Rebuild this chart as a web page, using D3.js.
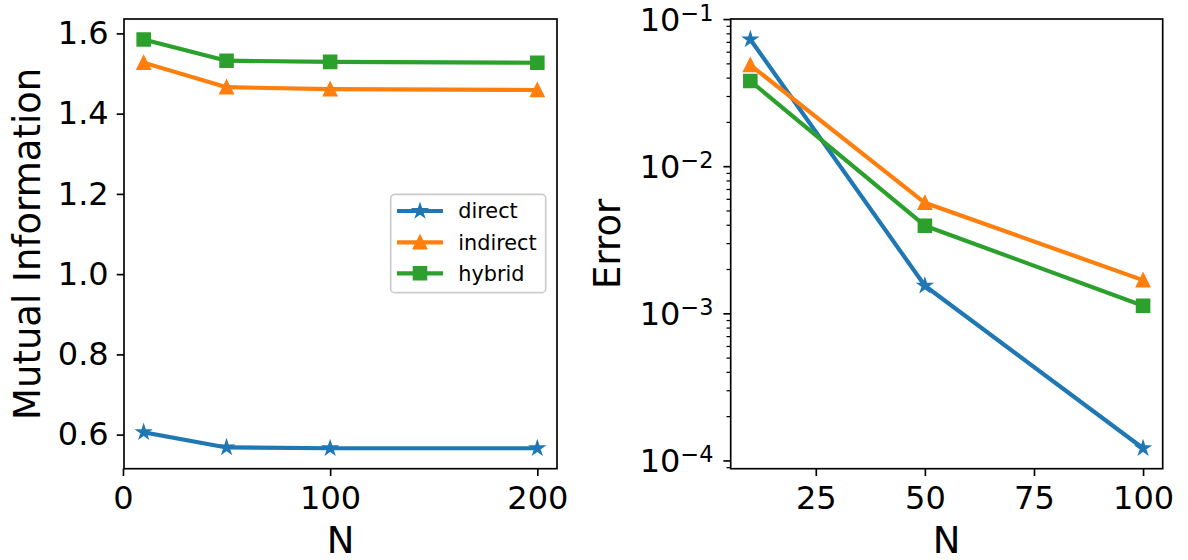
<!DOCTYPE html>
<html>
<head>
<meta charset="utf-8">
<script src="https://cdn.jsdelivr.net/npm/d3@7"></script>
<style>
  html, body { margin: 0; padding: 0; background: #fff; }
  svg { display: block; font-family: "DejaVu Sans", sans-serif; }
</style>
</head>
<body>
<svg id="chart" width="1188" height="560"></svg>
<script>
// ---- data ----
const seriesNames = ["direct", "indirect", "hybrid"];
const seriesColors = ["#1f77b4", "#ff7f0e", "#2ca02c"];
const seriesMarkers = ["star", "triangle", "square"];

const nMI = [10, 50, 100, 200];
const directMI = [0.606, 0.568, 0.566, 0.566];
const indirectMI = [1.527, 1.466, 1.461, 1.459];
const hybridMI = [1.585, 1.532, 1.529, 1.527];

const nErr = [10, 50, 100];
const directErr = [0.0727, 0.00154, 0.000121];
const indirectErr = [0.0487, 0.00564, 0.00168];
const hybridErr = [0.0379, 0.00394, 0.001125];

const xTicksMI = [0, 100, 200];
const yTicksMI = [0.6, 0.8, 1.0, 1.2, 1.4, 1.6];
const xTicksErr = [25, 50, 75, 100];
const yTicksErr = [1e-4, 1e-3, 1e-2, 1e-1];

// ---- style ----
const S = 2.083; // points -> px
const lineW = 2 * S;
const msz = 6 * S;
const tickFont = 32, labelFont = 37, legendFont = 20.8;
const majorLen = 3.5 * S, minorLen = 2 * S, tickW = 0.8 * S;

const svg = d3.select("#chart");

function markerPath(type) {
  const h = msz / 2;
  if (type === "square") return `M${-h},${-h}H${h}V${h}H${-h}Z`;
  if (type === "triangle") return `M0,${-h}L${-h},${h}L${h},${h}Z`;
  // star (5 points, inner ratio 0.381966)
  let p = "";
  for (let i = 0; i < 10; i++) {
    const r = i % 2 === 0 ? h : h * 0.381966;
    const a = -Math.PI / 2 + i * Math.PI / 5;
    p += (i === 0 ? "M" : "L") + (r * Math.cos(a)).toFixed(3) + "," + (r * Math.sin(a)).toFixed(3);
  }
  return p + "Z";
}

function padDomain(lo, hi) { const m = (hi - lo) * 0.05; return [lo - m, hi + m]; }

function drawPanel(opt) {
  const { left, right, top, bottom, xs, ys, xVals, seriesVals, xTicks, yTicks, log } = opt;
  const g = svg.append("g");

  // lines & markers
  seriesVals.forEach((vals, si) => {
    const pts = xVals.map((x, i) => [xs(x), ys(vals[i])]);
    g.append("path")
      .attr("d", d3.line()(pts))
      .attr("fill", "none")
      .attr("stroke", seriesColors[si])
      .attr("stroke-width", lineW)
      .attr("stroke-linejoin", "round")
      .attr("stroke-linecap", "square");
    g.selectAll(null).data(pts).enter().append("path")
      .attr("d", markerPath(seriesMarkers[si]))
      .attr("transform", d => `translate(${d[0]},${d[1]})`)
      .attr("fill", seriesColors[si])
      .attr("stroke", seriesColors[si])
      .attr("stroke-width", 1 * S)
      .attr("stroke-linejoin", "miter");
  });

  // frame
  g.append("rect")
    .attr("x", left).attr("y", top)
    .attr("width", right - left).attr("height", bottom - top)
    .attr("fill", "none").attr("stroke", "#000").attr("stroke-width", tickW);

  // x axis
  const xa = g.append("g").attr("transform", `translate(0,${bottom})`)
    .call(d3.axisBottom(xs).tickValues(xTicks).tickSize(majorLen).tickPadding(10.6).tickFormat(d3.format("d")));
  xa.select(".domain").remove();
  xa.selectAll("line").attr("stroke-width", tickW);
  xa.selectAll("text").attr("font-size", tickFont).attr("font-family", "DejaVu Sans").attr("fill", "#000");

  // y axis
  if (!log) {
    const ya = g.append("g").attr("transform", `translate(${left},0)`)
      .call(d3.axisLeft(ys).tickValues(yTicks).tickSize(majorLen).tickPadding(8).tickFormat(d3.format(".1f")));
    ya.select(".domain").remove();
    ya.selectAll("line").attr("stroke-width", tickW);
    ya.selectAll("text").attr("font-size", tickFont).attr("font-family", "DejaVu Sans").attr("fill", "#000");
  } else {
    const [d0, d1] = ys.domain();
    const minors = [];
    for (let e = Math.floor(Math.log10(d0)); e <= Math.ceil(Math.log10(d1)); e++) {
      for (let k = 2; k <= 9; k++) {
        const v = k * Math.pow(10, e);
        if (v >= d0 && v <= d1) minors.push(v);
      }
    }
    const ym = g.append("g").attr("transform", `translate(${left},0)`)
      .call(d3.axisLeft(ys).tickValues(minors).tickSize(minorLen).tickFormat(""));
    ym.select(".domain").remove();
    ym.selectAll("line").attr("stroke-width", tickW * 0.75);

    const ya = g.append("g").attr("transform", `translate(${left},0)`)
      .call(d3.axisLeft(ys).tickValues(yTicks).tickSize(majorLen).tickPadding(10).tickFormat(""));
    ya.select(".domain").remove();
    ya.selectAll("line").attr("stroke-width", tickW);
    ya.selectAll(".tick").each(function (d) {
      const t = d3.select(this).select("text")
        .attr("font-size", tickFont).attr("font-family", "DejaVu Sans").attr("fill", "#000")
        .attr("text-anchor", "end").attr("dy", "0.36em");
      t.append("tspan").text("10");
      t.append("tspan").attr("font-size", tickFont * 0.7).attr("dy", "-0.45em")
        .text("\u2212" + Math.round(-Math.log10(d)));
    });
  }
  return g;
}

// ---- left panel ----
const L = { left: 124, right: 557, top: 19, bottom: 468.7 };
const allMI = directMI.concat(indirectMI, hybridMI);
const xsL = d3.scaleLinear().domain(padDomain(d3.min(nMI), d3.max(nMI))).range([L.left, L.right]);
const ysL = d3.scaleLinear().domain(padDomain(d3.min(allMI), d3.max(allMI))).range([L.bottom, L.top]);
drawPanel({ ...L, xs: xsL, ys: ysL, xVals: nMI, seriesVals: [directMI, indirectMI, hybridMI],
  xTicks: xTicksMI, yTicks: yTicksMI, log: false });

// ---- right panel ----
const R = { left: 730.7, right: 1162.7, top: 19, bottom: 468.7 };
const allErr = directErr.concat(indirectErr, hybridErr);
const lgd = padDomain(Math.log10(d3.min(allErr)), Math.log10(d3.max(allErr)));
const xsR = d3.scaleLinear().domain(padDomain(d3.min(nErr), d3.max(nErr))).range([R.left, R.right]);
const ysR = d3.scaleLog().domain([Math.pow(10, lgd[0]), Math.pow(10, lgd[1])]).range([R.bottom, R.top]);
drawPanel({ ...R, xs: xsR, ys: ysR, xVals: nErr, seriesVals: [directErr, indirectErr, hybridErr],
  xTicks: xTicksErr, yTicks: yTicksErr, log: true });

// ---- axis labels ----
svg.append("text").attr("x", (L.left + L.right) / 2).attr("y", 552.5)
  .attr("text-anchor", "middle").attr("font-size", labelFont).text("N");
svg.append("text").attr("x", (R.left + R.right) / 2).attr("y", 552.5)
  .attr("text-anchor", "middle").attr("font-size", labelFont).text("N");
svg.append("text").attr("transform", `translate(40,${(L.top + L.bottom) / 2}) rotate(-90)`)
  .attr("text-anchor", "middle").attr("font-size", labelFont).text("Mutual Information");
svg.append("text").attr("transform", `translate(620,${(R.top + R.bottom) / 2}) rotate(-90)`)
  .attr("text-anchor", "middle").attr("font-size", labelFont).text("Error");

// ---- legend ----
const lg = svg.append("g");
lg.append("rect").attr("x", 390.7).attr("y", 194.3).attr("width", 155).attr("height", 98.4)
  .attr("rx", 4).attr("ry", 4).attr("fill", "#fff").attr("fill-opacity", 0.8)
  .attr("stroke", "#cccccc").attr("stroke-width", tickW);
const rowY = [211, 242.3, 273.3];
seriesNames.forEach((name, i) => {
  const y = rowY[i];
  lg.append("line").attr("x1", 397).attr("x2", 443).attr("y1", y).attr("y2", y)
    .attr("stroke", seriesColors[i]).attr("stroke-width", lineW);
  lg.append("path").attr("d", markerPath(seriesMarkers[i]))
    .attr("transform", `translate(420,${y})`)
    .attr("fill", seriesColors[i]).attr("stroke", seriesColors[i]).attr("stroke-width", 1 * S);
  lg.append("text").attr("x", 458.3).attr("y", y).attr("dy", "0.36em")
    .attr("font-size", legendFont).attr("fill", "#000").text(name);
});
</script>
</body>
</html>
